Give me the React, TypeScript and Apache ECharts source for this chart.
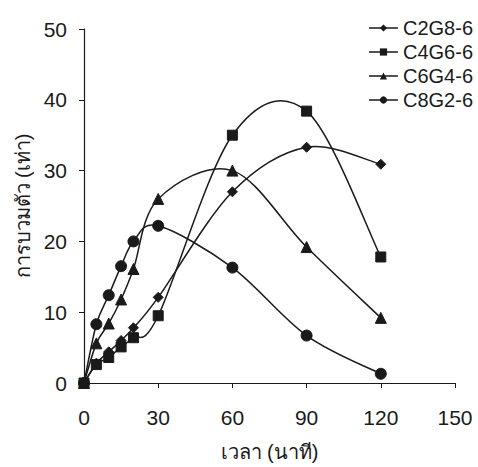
import React, { useEffect, useRef } from "react";
import * as echarts from "echarts";

const times = [0, 5, 10, 15, 20, 30, 60, 90, 120];
const seriesNames = ["C2G8-6", "C4G6-6", "C6G4-6", "C8G2-6"];
const c2g8 = [0, 2.8, 4.4, 6.0, 7.8, 12.1, 27.0, 33.3, 30.9];
const c4g6 = [0, 2.6, 3.6, 5.1, 6.4, 9.5, 35.0, 38.4, 17.8];
const c6g4 = [0, 5.6, 8.4, 11.8, 16.1, 26.0, 30.0, 19.2, 9.2];
const c8g2 = [0, 8.3, 12.4, 16.5, 20.0, 22.2, 16.3, 6.7, 1.3];
const symbols = ["diamond", "rect", "triangle", "circle"];
const symbolSizes = [10, 10, 11, 11];
const xTicks = { min: 0, max: 150, interval: 30 };
const yTicks = { min: 0, max: 50, interval: 10 };

const FONT = "'Liberation Sans', Arial, sans-serif";
const INK = "#1a1a1a";

export default function App() {
  const ref = useRef<HTMLDivElement>(null);
  useEffect(() => {
    if (!ref.current) return;
    const chart = echarts.init(ref.current, null, { renderer: "svg" });
    const all = [c2g8, c4g6, c6g4, c8g2];

    const curveSeries = all.map((arr, si) => ({
      name: "_curve" + si,
      type: "custom",
      silent: true,
      clip: false,
      encode: { x: 0, y: 1 },
      data: times.map((t, j) => [t, arr[j]]),
      renderItem: (params: any, api: any) => {
        const i = params.dataIndex;
        const n = times.length;
        if (i >= n - 1) return null;
        const pt = (k: number) => {
          const kk = Math.max(0, Math.min(n - 1, k));
          return api.coord([times[kk], arr[kk]]);
        };
        const p0 = pt(i - 1);
        const p1 = pt(i);
        const p2 = pt(i + 1);
        const p3 = pt(i + 2);
        const t = 1 / 6;
        return {
          type: "bezierCurve",
          shape: {
            x1: p1[0],
            y1: p1[1],
            cpx1: p1[0] + (p2[0] - p0[0]) * t,
            cpy1: p1[1] + (p2[1] - p0[1]) * t,
            cpx2: p2[0] - (p3[0] - p1[0]) * t,
            cpy2: p2[1] - (p3[1] - p1[1]) * t,
            x2: p2[0],
            y2: p2[1],
          },
          style: { stroke: INK, lineWidth: 1.5, fill: null },
        };
      },
    }));

    const markerSeries = seriesNames.map((name, i) => ({
      name,
      type: "line",
      smooth: false,
      symbol: symbols[i],
      symbolSize: symbolSizes[i],
      showAllSymbol: true,
      clip: false,
      lineStyle: { color: INK, width: 0, opacity: 0 },
      itemStyle: { color: INK, borderColor: INK },
      data: times.map((t, j) => [t, all[i][j]]),
    }));

    chart.setOption({
      animation: false,
      backgroundColor: "#ffffff",
      textStyle: { fontFamily: FONT, color: INK },
      grid: { left: 84, right: 23, top: 29, bottom: 78 },
      legend: {
        orient: "vertical",
        right: 0,
        top: 13,
        itemWidth: 29,
        itemHeight: 9,
        itemGap: 4,
        lineStyle: { color: INK, width: 1.5, opacity: 1 },
        textStyle: { fontSize: 20, color: INK, fontFamily: FONT },
        data: seriesNames,
      },
      xAxis: {
        type: "value",
        min: xTicks.min,
        max: xTicks.max,
        interval: xTicks.interval,
        name: "เวลา (นาที)",
        nameLocation: "middle",
        nameGap: 59,
        nameTextStyle: { fontSize: 20, color: INK, fontFamily: FONT },
        axisLine: { show: true, lineStyle: { color: INK, width: 1.2 } },
        axisTick: { show: true, inside: false, length: 5, lineStyle: { color: INK } },
        axisLabel: { fontSize: 21, color: INK, margin: 24, fontFamily: FONT },
        splitLine: { show: false },
      },
      yAxis: {
        type: "value",
        min: yTicks.min,
        max: yTicks.max,
        interval: yTicks.interval,
        name: "การบวมตัว (เท่า)",
        nameLocation: "middle",
        nameGap: 49,
        nameRotate: 90,
        nameTextStyle: { fontSize: 20, color: INK, fontFamily: FONT },
        axisLine: { show: true, lineStyle: { color: INK, width: 1.2 } },
        axisTick: { show: true, inside: false, length: 5, lineStyle: { color: INK } },
        axisLabel: { fontSize: 21, color: INK, margin: 17, fontFamily: FONT },
        splitLine: { show: false },
      },
      series: [...curveSeries, ...markerSeries],
    });
    return () => chart.dispose();
  }, []);
  return <div ref={ref} style={{ width: 478, height: 467, position: "absolute", left: 0, top: 0 }} />;
}
